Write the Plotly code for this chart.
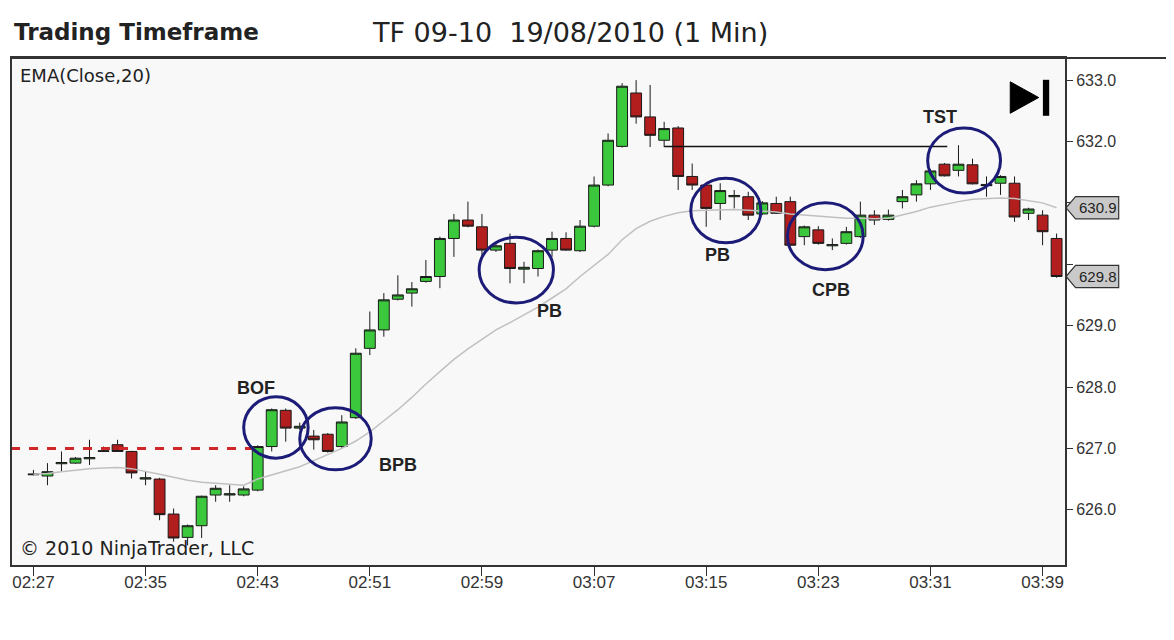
import pandas as pd
import plotly.graph_objects as go

# 1-minute bars, TF 09-10, 19/08/2010, from 02:27
start = pd.Timestamp("2010-08-19 02:27")
opens = [626.57, 626.55, 626.75, 626.76, 626.83, 626.95, 627.06, 626.95, 626.50, 626.50,
         625.93, 625.55, 625.74, 626.24, 626.24, 626.24, 626.32, 627.03, 627.62, 627.33,
         627.20, 627.23, 627.03, 627.50, 628.63, 628.93, 629.43, 629.53, 629.72, 629.80,
         630.42, 630.72, 630.61, 630.23, 630.34, 629.92, 629.93, 630.23, 630.42, 630.22,
         630.62, 631.29, 631.92, 632.79, 632.40, 632.02, 632.22, 631.43, 631.29, 630.99,
         631.10, 631.10, 630.82, 630.99, 631.02, 630.45, 630.56, 630.30, 630.34, 630.45,
         630.80, 630.73, 631.02, 631.13, 631.31, 631.63, 631.53, 631.62, 631.30, 631.32,
         631.32, 630.83, 630.80, 630.42]
highs = [626.65, 626.76, 626.95, 626.86, 627.14, 627.03, 627.14, 626.96, 626.62, 626.52,
         626.02, 625.76, 626.23, 626.40, 626.40, 626.38, 627.05, 627.65, 627.65, 627.42,
         627.30, 627.25, 627.54, 628.63, 629.23, 629.53, 629.82, 629.71, 630.07, 630.45,
         630.82, 631.02, 630.82, 630.35, 630.50, 630.04, 630.24, 630.53, 630.52, 630.72,
         631.43, 632.13, 632.95, 633.00, 632.92, 632.32, 632.25, 631.64, 631.31, 631.32,
         631.21, 631.18, 631.03, 631.10, 631.10, 630.63, 630.62, 630.42, 630.61, 631.02,
         630.88, 630.89, 631.21, 631.37, 631.55, 631.65, 631.94, 631.72, 631.43, 631.45,
         631.43, 630.92, 630.88, 630.50]
lows = [626.56, 626.40, 626.62, 626.75, 626.73, 626.94, 626.95, 626.51, 626.40, 625.83,
        625.48, 625.42, 625.54, 626.13, 626.13, 626.22, 626.30, 626.95, 627.11, 627.30,
        626.98, 626.93, 627.01, 627.48, 628.52, 628.82, 629.41, 629.31, 629.70, 629.61,
        630.12, 630.60, 630.12, 630.20, 629.69, 629.69, 629.80, 630.12, 630.22, 630.20,
        630.60, 631.27, 631.90, 632.29, 631.91, 631.91, 631.21, 631.21, 630.61, 630.72,
        630.91, 630.72, 630.80, 630.82, 630.29, 630.31, 630.32, 630.23, 630.32, 630.43,
        630.64, 630.71, 630.91, 631.02, 631.21, 631.43, 631.43, 631.30, 631.10, 631.13,
        630.69, 630.72, 630.31, 629.78]
closes = [626.58, 626.62, 626.77, 626.84, 626.85, 626.96, 626.95, 626.60, 626.52, 625.92,
          625.54, 625.74, 626.22, 626.35, 626.26, 626.34, 627.03, 627.63, 627.33, 627.36,
          627.14, 626.95, 627.43, 628.55, 628.93, 629.42, 629.50, 629.60, 629.80, 630.42,
          630.72, 630.62, 630.23, 630.30, 629.93, 629.95, 630.22, 630.42, 630.23, 630.62,
          631.29, 632.02, 632.90, 632.40, 632.10, 632.21, 631.43, 631.29, 630.91, 631.20,
          631.12, 630.80, 631.00, 630.83, 630.31, 630.61, 630.34, 630.32, 630.53, 630.80,
          630.72, 630.80, 631.10, 631.31, 631.52, 631.44, 631.63, 631.31, 631.28, 631.43,
          630.77, 630.90, 630.53, 629.80]
# EMA(Close,20)
ema = [626.58, 626.59, 626.62, 626.65, 626.67, 626.68, 626.69, 626.67, 626.63, 626.58,
       626.53, 626.48, 626.45, 626.43, 626.41, 626.40, 626.50, 626.57, 626.64, 626.70,
       626.80, 626.90, 627.00, 627.12, 627.27, 627.45, 627.63, 627.83, 628.05, 628.25,
       628.45, 628.62, 628.78, 628.93, 629.05, 629.17, 629.30, 629.45, 629.60, 629.80,
       629.98, 630.16, 630.40, 630.58, 630.70, 630.78, 630.84, 630.87, 630.88, 630.89,
       630.89, 630.88, 630.87, 630.85, 630.82, 630.80, 630.78, 630.76, 630.75, 630.75,
       630.74, 630.75, 630.80, 630.86, 630.93, 630.98, 631.02, 631.06, 631.07, 631.08,
       631.07, 631.04, 631.00, 630.92]
price_ticks = [626, 627, 628, 629, 630, 631, 632, 633]

times = pd.date_range(start, periods=len(closes), freq="min")

# setups: label, circle (minute from, minute to, price low, price high), label pos (minute, price)
setups = [
    ("BOF", (15.0, 19.6, 626.84, 627.84), (15.9, 627.98)),
    ("BPB", (19.0, 24.1, 626.65, 627.66), (26.0, 626.73)),
    ("PB", (31.8, 37.1, 629.37, 630.44), (36.8, 629.24)),
    ("PB", (46.9, 51.9, 630.35, 631.40), (48.8, 630.15)),
    ("CPB", (53.8, 59.2, 629.91, 631.00), (56.9, 629.58)),
    ("TST", (63.8, 69.0, 631.16, 632.22), (64.7, 632.40)),
]
breakout_level = 627.0
test_level = 631.92


def t(m):
    return start + pd.Timedelta(minutes=m)


fig = go.Figure()
fig.add_trace(go.Scatter(x=times, y=ema, mode="lines",
                         line=dict(color="#c0c0c0", width=1.5), hoverinfo="skip"))
fig.add_trace(go.Candlestick(
    x=times, open=opens, high=highs, low=lows, close=closes,
    increasing=dict(fillcolor="#3cc83c", line=dict(color="#1a1a1a", width=1)),
    decreasing=dict(fillcolor="#b21e1e", line=dict(color="#1a1a1a", width=1)),
    whiskerwidth=0, hoverinfo="skip"))

shapes = []
# red dashed breakout level
shapes.append(dict(type="line", xref="x", yref="y", x0=t(-1.6), x1=t(15.8),
                   y0=breakout_level, y1=breakout_level,
                   line=dict(color="#d02828", width=3, dash="dash")))
# black line from the high to the test
shapes.append(dict(type="line", xref="x", yref="y", x0=t(45), x1=t(65.2),
                   y0=test_level, y1=test_level, line=dict(color="#111", width=1.5)))
for label, (m0, m1, p0, p1), _ in setups:
    shapes.append(dict(type="circle", xref="x", yref="y", x0=t(m0), x1=t(m1),
                       y0=p0, y1=p1, line=dict(color="#1c1c78", width=3)))
# top frame line running across to the right edge
shapes.append(dict(type="line", xref="paper", yref="paper", x0=-0.001, x1=1.11,
                   y0=1.0, y1=1.0, line=dict(color="#333", width=2)))
# play-to-end icon
shapes.append(dict(type="path", xref="paper", yref="paper",
                   path="M 0.948 0.953 L 0.948 0.891 L 0.975 0.922 Z",
                   fillcolor="black", line=dict(color="black", width=1)))
shapes.append(dict(type="rect", xref="paper", yref="paper", x0=0.979, x1=0.985,
                   y0=0.886, y1=0.957, fillcolor="black", line=dict(width=0)))

annotations = []
for label, _, (m, p) in setups:
    annotations.append(dict(x=t(m), y=p, text="<b>%s</b>" % label, showarrow=False,
                            font=dict(family="Liberation Sans", size=18, color="#222")))

# last value markers on the price axis
for val in [ema[-1], closes[-1]]:
    h = 0.18
    shapes.append(dict(type="path", xref="paper", yref="y",
                       path="M 1.001 %f L 1.010 %f L 1.051 %f L 1.051 %f L 1.010 %f Z"
                            % (val, val + h, val + h, val - h, val - h),
                       fillcolor="#c9c9c9", line=dict(color="#333", width=1.2)))
    annotations.append(dict(x=1.031, xref="paper", y=val, yref="y", text="%.1f" % val,
                            xanchor="center", yanchor="middle", showarrow=False,
                            font=dict(family="Liberation Sans", size=15, color="#222")))

annotations += [
    dict(x=0.006, y=0.99, xref="paper", yref="paper", text="EMA(Close,20)", showarrow=False,
         xanchor="left", yanchor="top", font=dict(family="DejaVu Sans", size=18, color="#222")),
    dict(x=0.006, y=0.008, xref="paper", yref="paper", text="© 2010 NinjaTrader, LLC",
         showarrow=False, xanchor="left", yanchor="bottom",
         font=dict(family="DejaVu Sans", size=19, color="#222")),
    dict(x=0.0, y=1.022, xref="paper", yref="paper", text="<b>Trading Timeframe</b>",
         showarrow=False, xanchor="left", yanchor="bottom",
         font=dict(family="DejaVu Sans", size=23, color="#222")),
    dict(x=0.34, y=1.015, xref="paper", yref="paper", text="TF 09-10  19/08/2010 (1 Min)",
         showarrow=False, xanchor="left", yanchor="bottom",
         font=dict(family="DejaVu Sans", size=27, color="#222")),
]

# the page body adds 8px, so the figure is 8px smaller and margins are shifted
fig.update_layout(
    width=1166, height=632,
    margin=dict(l=2, r=109, t=50, b=75),
    paper_bgcolor="white", plot_bgcolor="#f8f8f8",
    showlegend=False, shapes=shapes, annotations=annotations,
    boxgap=0.12, boxgroupgap=0.12,
    font=dict(family="Liberation Sans", size=16, color="#333"),
)
fig.update_xaxes(
    type="date", range=[t(-1.53), t(73.6)], rangeslider_visible=False,
    tickvals=[t(m) for m in range(0, 74, 8)], tickformat="%H:%M",
    ticks="outside", ticklen=9, tickcolor="#333", showgrid=False, zeroline=False,
    showline=True, linecolor="#333", linewidth=2, mirror=True,
    ticklabelstandoff=-8,
    tickfont=dict(size=17, color="#333"),
)
fig.update_yaxes(
    side="right", range=[625.10, 633.36],
    tickvals=price_ticks,
    ticktext=["" if p in (630, 631) else "%.1f" % p for p in price_ticks],
    ticks="outside", ticklen=6, tickcolor="#333", showgrid=False, zeroline=False,
    showline=True, linecolor="#333", linewidth=2, mirror=True,
    tickfont=dict(size=16, color="#333"),
)

fig.write_html("out.html")
